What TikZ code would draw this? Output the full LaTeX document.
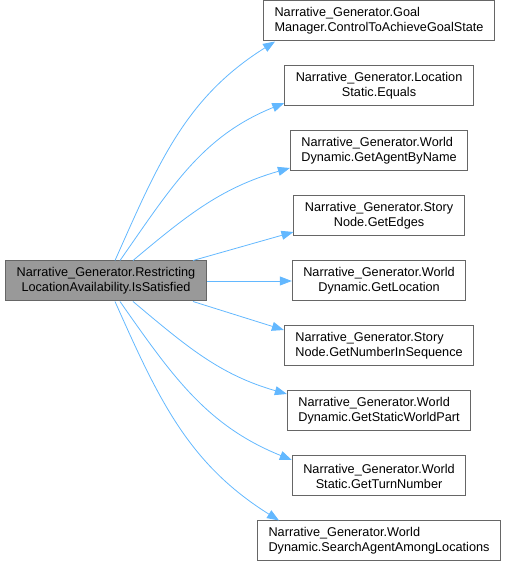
\documentclass[tikz,border=0pt]{standalone}
\usepackage{fontspec}
\setmainfont{Liberation Sans}
\usetikzlibrary{%
    arrows.meta,%
    positioning
    }
\definecolor{myedge}{RGB}{99,184,255}
\definecolor{mygrayfill}{RGB}{153,153,153}
\definecolor{mygrayline}{RGB}{102,102,102}
\tikzset{
  caller/.style={
    rectangle,
    minimum height=40pt,
    inner xsep=11pt,
    inner ysep=2pt,
    align=center,
    draw=mygrayline,
    line width=1pt,
    font=\fontsize{12.7}{15}\selectfont,
    fill=mygrayfill,
  },
  callee/.style={
    caller,
    fill=white,
  },
  calleeleft/.style={
    callee,
    align=left,
  },
  edge/.style={
    -{Triangle[length=12pt,width=9pt]},
    myedge,
    line width=0.8pt,
  },
}
\begin{document}
\begin{tikzpicture}[x=1pt,y=1pt,node distance=24pt and 85pt]
\useasboundingbox (0,0) rectangle (511,563);
\node[caller]
  (main)
  at (106,282)
  {Narrative\_Generator.Restricting\\LocationAvailability.IsSatisfied};
\node[callee,right=of main]
  (location)
  {Narrative\_Generator.World\\Dynamic.GetLocation};
\node[callee,above=of location]
  (edges)
  {Narrative\_Generator.Story\\Node.GetEdges};
\node[calleeleft,above=of edges]
  (agent)
  {Narrative\_Generator.World\\Dynamic.GetAgentByName};
\node[callee,above=of agent]
  (equals)
  {Narrative\_Generator.Location\\Static.Equals};
\node[calleeleft,above=of equals]
  (goal)
  {Narrative\_Generator.Goal\\Manager.ControlToAchieveGoalState};
\node[calleeleft,below=of location]
  (seqnum)
  {Narrative\_Generator.Story\\Node.GetNumberInSequence};
\node[calleeleft,below=of seqnum]
  (staticpart)
  {Narrative\_Generator.World\\Dynamic.GetStaticWorldPart};
\node[callee,below=of staticpart]
  (turn)
  {Narrative\_Generator.World\\Static.GetTurnNumber};
\node[calleeleft,below=of turn]
  (search)
  {Narrative\_Generator.World\\Dynamic.SearchAgentAmongLocations};

\begin{scope}[edge]
\draw
  ([xshift=9pt]main.north) to[out=66,in=212] ([xshift=12pt]goal.south west);
\draw
  ([xshift=14pt]main.north) to[out=55,in=202] ([yshift=-17pt]equals.west);
\draw
  ([xshift=27pt]main.north) to[out=40,in=196] ([yshift=-17pt]agent.west);
\draw
  ([xshift=87pt]main.north) -- ([yshift=-16pt]edges.west);
\draw
  (main) -- (location);
\draw
  ([xshift=87pt]main.south) -- ([yshift=16pt]seqnum.west);
\draw
  ([xshift=27pt]main.south) to[out=-40,in=164] ([yshift=17pt]staticpart.west);
\draw
  ([xshift=14pt]main.south) to[out=-55,in=158] ([yshift=16pt]turn.west);
\draw
  ([xshift=9pt]main.south) to[out=-66,in=148] ([xshift=22pt]search.north west);
\end{scope}
\end{tikzpicture}
\end{document}
